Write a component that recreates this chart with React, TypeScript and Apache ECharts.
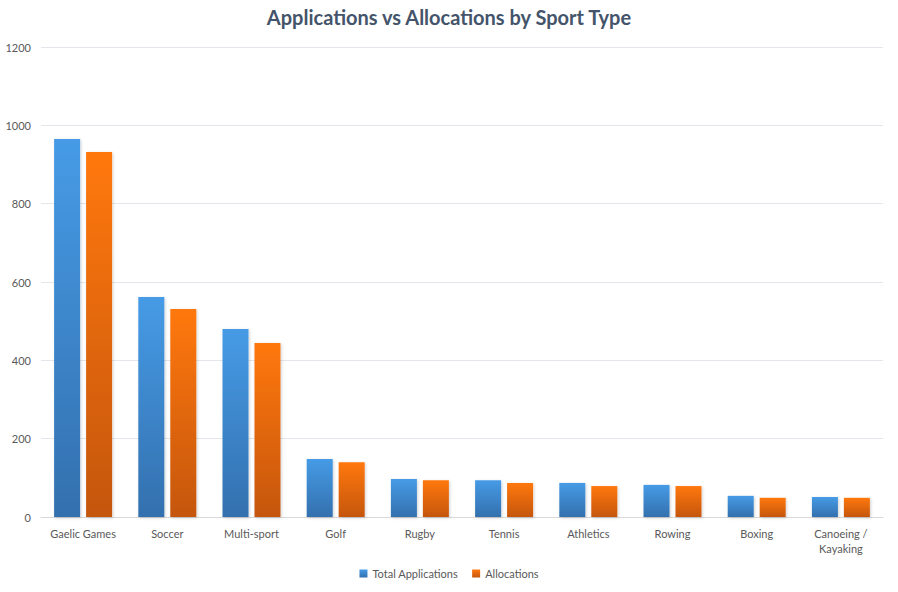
import React, { useEffect, useRef } from "react";
import * as echarts from "echarts";

const categories = [
  "Gaelic Games",
  "Soccer",
  "Multi-sport",
  "Golf",
  "Rugby",
  "Tennis",
  "Athletics",
  "Rowing",
  "Boxing",
  "Canoeing /\nKayaking",
];
const totalApplications = [965, 562, 480, 148, 97, 94, 87, 82, 54, 51];
const allocations = [932, 531, 444, 140, 94, 87, 79, 79, 49, 49];
const yTicks = { min: 0, max: 1200, interval: 200 };

const FONT = "Lato, 'Open Sans', sans-serif";

export default function App() {
  const ref = useRef<HTMLDivElement>(null);
  useEffect(() => {
    if (!ref.current) return;
    const chart = echarts.init(ref.current, null, { renderer: "svg" });
    const grad = (top: string, bottom: string) =>
      new echarts.graphic.LinearGradient(0, 0, 0, 1, [
        { offset: 0, color: top },
        { offset: 1, color: bottom },
      ]);
    chart.setOption({
      animation: false,
      backgroundColor: "#ffffff",
      textStyle: { fontFamily: FONT },
      title: {
        text: "Applications vs Allocations by Sport Type",
        left: "center",
        top: 7,
        padding: 0,
        textStyle: { fontFamily: FONT, fontSize: 20, fontWeight: "bold", color: "#44546A" },
      },
      legend: {
        bottom: 8,
        left: "center",
        itemWidth: 8,
        itemHeight: 8,
        itemGap: 14,
        icon: "rect",
        textStyle: { fontFamily: FONT, fontSize: 11, color: "#595959" },
        data: ["Total Applications", "Allocations"],
      },
      grid: {
        left: 41,
        right: 15,
        top: 47,
        bottom: 75,
        containLabel: false,
        outerBoundsMode: "none",
      },
      xAxis: {
        type: "category",
        data: categories,
        axisLine: { lineStyle: { color: "#D9D9D9" } },
        axisTick: { show: false },
        axisLabel: { fontFamily: FONT, fontSize: 11, color: "#595959", margin: 9, interval: 0, lineHeight: 15 },
      },
      yAxis: {
        type: "value",
        min: yTicks.min,
        max: yTicks.max,
        interval: yTicks.interval,
        axisLine: { show: false },
        axisTick: { show: false },
        axisLabel: {
          fontFamily: FONT,
          fontSize: 11,
          color: "#595959",
          margin: 10,
          formatter: (v: number) => String(v),
        },
        splitLine: { lineStyle: { color: "#E3E6EA" } },
      },
      series: [
        {
          name: "Total Applications",
          type: "bar",
          data: totalApplications,
          barWidth: 26,
          barGap: "23%",
          itemStyle: {
            color: grad("#469BE6", "#3370AE"),
            shadowBlur: 3,
            shadowColor: "rgba(0,0,0,0.18)",
            shadowOffsetX: 1,
            shadowOffsetY: 1,
          },
        },
        {
          name: "Allocations",
          type: "bar",
          data: allocations,
          barWidth: 26,
          itemStyle: {
            color: grad("#FF7811", "#C5560E"),
            shadowBlur: 3,
            shadowColor: "rgba(0,0,0,0.18)",
            shadowOffsetX: 1,
            shadowOffsetY: 1,
          },
        },
      ],
    });
    return () => chart.dispose();
  }, []);
  return (
    <div
      ref={ref}
      style={{ position: "absolute", left: 0, top: 0, width: 898, height: 592 }}
    />
  );
}
